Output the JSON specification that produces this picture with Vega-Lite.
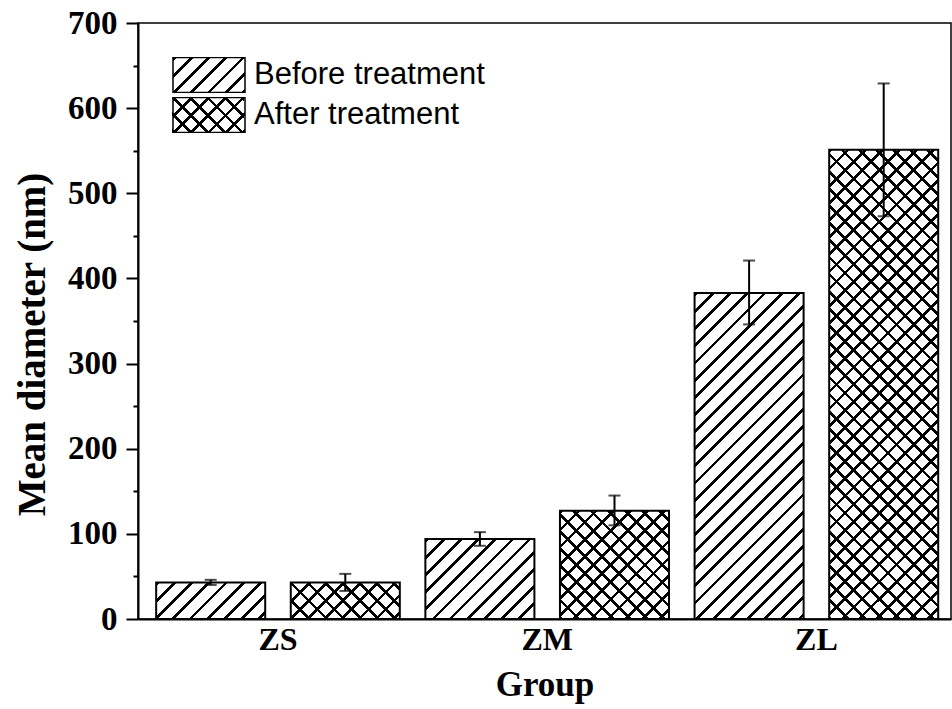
{
  "$schema": "https://vega.github.io/schema/vega-lite/v6.json",
  "width": 813,
  "height": 596,
  "autosize": "none",
  "padding": {"left": 138, "top": 23, "right": 1, "bottom": 90},
  "background": "white",
  "params": [
    {"name": "hs", "value": [
      {"offset":0,"color":"#000"},{"offset":0.0063,"color":"#000"},{"offset":0.0063,"color":"transparent"},{"offset":0.0286,"color":"transparent"},
      {"offset":0.0286,"color":"#000"},{"offset":0.0349,"color":"#000"},{"offset":0.0349,"color":"transparent"},{"offset":0.0571,"color":"transparent"},
      {"offset":0.0571,"color":"#000"},{"offset":0.0634,"color":"#000"},{"offset":0.0634,"color":"transparent"},{"offset":0.0857,"color":"transparent"},
      {"offset":0.0857,"color":"#000"},{"offset":0.092,"color":"#000"},{"offset":0.092,"color":"transparent"},{"offset":0.1143,"color":"transparent"},
      {"offset":0.1143,"color":"#000"},{"offset":0.1206,"color":"#000"},{"offset":0.1206,"color":"transparent"},{"offset":0.1429,"color":"transparent"},
      {"offset":0.1429,"color":"#000"},{"offset":0.1492,"color":"#000"},{"offset":0.1492,"color":"transparent"},{"offset":0.1714,"color":"transparent"},
      {"offset":0.1714,"color":"#000"},{"offset":0.1777,"color":"#000"},{"offset":0.1777,"color":"transparent"},{"offset":0.2,"color":"transparent"},
      {"offset":0.2,"color":"#000"},{"offset":0.2063,"color":"#000"},{"offset":0.2063,"color":"transparent"},{"offset":0.2286,"color":"transparent"},
      {"offset":0.2286,"color":"#000"},{"offset":0.2349,"color":"#000"},{"offset":0.2349,"color":"transparent"},{"offset":0.2571,"color":"transparent"},
      {"offset":0.2571,"color":"#000"},{"offset":0.2634,"color":"#000"},{"offset":0.2634,"color":"transparent"},{"offset":0.2857,"color":"transparent"},
      {"offset":0.2857,"color":"#000"},{"offset":0.292,"color":"#000"},{"offset":0.292,"color":"transparent"},{"offset":0.3143,"color":"transparent"},
      {"offset":0.3143,"color":"#000"},{"offset":0.3206,"color":"#000"},{"offset":0.3206,"color":"transparent"},{"offset":0.3429,"color":"transparent"},
      {"offset":0.3429,"color":"#000"},{"offset":0.3492,"color":"#000"},{"offset":0.3492,"color":"transparent"},{"offset":0.3714,"color":"transparent"},
      {"offset":0.3714,"color":"#000"},{"offset":0.3777,"color":"#000"},{"offset":0.3777,"color":"transparent"},{"offset":0.4,"color":"transparent"},
      {"offset":0.4,"color":"#000"},{"offset":0.4063,"color":"#000"},{"offset":0.4063,"color":"transparent"},{"offset":0.4286,"color":"transparent"},
      {"offset":0.4286,"color":"#000"},{"offset":0.4349,"color":"#000"},{"offset":0.4349,"color":"transparent"},{"offset":0.4571,"color":"transparent"},
      {"offset":0.4571,"color":"#000"},{"offset":0.4634,"color":"#000"},{"offset":0.4634,"color":"transparent"},{"offset":0.4857,"color":"transparent"},
      {"offset":0.4857,"color":"#000"},{"offset":0.492,"color":"#000"},{"offset":0.492,"color":"transparent"},{"offset":0.5143,"color":"transparent"},
      {"offset":0.5143,"color":"#000"},{"offset":0.5206,"color":"#000"},{"offset":0.5206,"color":"transparent"},{"offset":0.5429,"color":"transparent"},
      {"offset":0.5429,"color":"#000"},{"offset":0.5492,"color":"#000"},{"offset":0.5492,"color":"transparent"},{"offset":0.5714,"color":"transparent"},
      {"offset":0.5714,"color":"#000"},{"offset":0.5777,"color":"#000"},{"offset":0.5777,"color":"transparent"},{"offset":0.6,"color":"transparent"},
      {"offset":0.6,"color":"#000"},{"offset":0.6063,"color":"#000"},{"offset":0.6063,"color":"transparent"},{"offset":0.6286,"color":"transparent"},
      {"offset":0.6286,"color":"#000"},{"offset":0.6349,"color":"#000"},{"offset":0.6349,"color":"transparent"},{"offset":0.6571,"color":"transparent"},
      {"offset":0.6571,"color":"#000"},{"offset":0.6634,"color":"#000"},{"offset":0.6634,"color":"transparent"},{"offset":0.6857,"color":"transparent"},
      {"offset":0.6857,"color":"#000"},{"offset":0.692,"color":"#000"},{"offset":0.692,"color":"transparent"},{"offset":0.7143,"color":"transparent"},
      {"offset":0.7143,"color":"#000"},{"offset":0.7206,"color":"#000"},{"offset":0.7206,"color":"transparent"},{"offset":0.7429,"color":"transparent"},
      {"offset":0.7429,"color":"#000"},{"offset":0.7492,"color":"#000"},{"offset":0.7492,"color":"transparent"},{"offset":0.7714,"color":"transparent"},
      {"offset":0.7714,"color":"#000"},{"offset":0.7777,"color":"#000"},{"offset":0.7777,"color":"transparent"},{"offset":0.8,"color":"transparent"},
      {"offset":0.8,"color":"#000"},{"offset":0.8063,"color":"#000"},{"offset":0.8063,"color":"transparent"},{"offset":0.8286,"color":"transparent"},
      {"offset":0.8286,"color":"#000"},{"offset":0.8349,"color":"#000"},{"offset":0.8349,"color":"transparent"},{"offset":0.8571,"color":"transparent"},
      {"offset":0.8571,"color":"#000"},{"offset":0.8634,"color":"#000"},{"offset":0.8634,"color":"transparent"},{"offset":0.8857,"color":"transparent"},
      {"offset":0.8857,"color":"#000"},{"offset":0.892,"color":"#000"},{"offset":0.892,"color":"transparent"},{"offset":0.9143,"color":"transparent"},
      {"offset":0.9143,"color":"#000"},{"offset":0.9206,"color":"#000"},{"offset":0.9206,"color":"transparent"},{"offset":0.9429,"color":"transparent"},
      {"offset":0.9429,"color":"#000"},{"offset":0.9492,"color":"#000"},{"offset":0.9492,"color":"transparent"},{"offset":0.9714,"color":"transparent"},
      {"offset":0.9714,"color":"#000"},{"offset":0.9777,"color":"#000"},{"offset":0.9777,"color":"transparent"},{"offset":1,"color":"transparent"}
    ]}
  ],
  "data": {"values": [
    {"group": "ZS", "treatment": "Before treatment", "mean": 43, "lo": 40, "hi": 46},
    {"group": "ZS", "treatment": "After treatment", "mean": 43, "lo": 33, "hi": 53},
    {"group": "ZM", "treatment": "Before treatment", "mean": 94, "lo": 86, "hi": 102},
    {"group": "ZM", "treatment": "After treatment", "mean": 127, "lo": 110, "hi": 145},
    {"group": "ZL", "treatment": "Before treatment", "mean": 383, "lo": 346, "hi": 421},
    {"group": "ZL", "treatment": "After treatment", "mean": 551, "lo": 473, "hi": 629}
  ]},
  "encoding": {
    "x": {
      "field": "group", "type": "nominal", "sort": ["ZS", "ZM", "ZL"],
      "scale": {"paddingInner": 0, "paddingOuter": 0.01, "align": 1},
      "axis": {
        "title": "Group", "labelAngle": 0, "ticks": false, "tickSize": 0,
        "labelFont": "Liberation Serif", "labelFontWeight": "bold", "labelFontSize": 32, "labelColor": "black",
        "labelBaseline": "alphabetic", "labelPadding": 30,
        "domainColor": "black", "domainWidth": 2,
        "titleFont": "Liberation Serif", "titleFontWeight": "bold", "titleFontSize": 35, "titleColor": "black",
        "titleBaseline": "alphabetic", "titleY": 76
      }
    },
    "xOffset": {
      "field": "treatment", "type": "nominal",
      "scale": {"domain": ["Before treatment", "After treatment"], "paddingInner": 0.19, "paddingOuter": 0.095}
    }
  },
  "layer": [
    {
      "mark": {
        "type": "bar", "stroke": "black", "strokeWidth": 2,
        "fill": {"expr": "{gradient:'linear',x1:0,y1:0,x2:65400/(11881+pow(scale('y',0)-scale('y',datum.mean),2)),y2:600*(scale('y',0)-scale('y',datum.mean))/(11881+pow(scale('y',0)-scale('y',datum.mean),2)),stops:hs}"}
      },
      "encoding": {
        "y": {
          "field": "mean", "type": "quantitative", "title": "Mean diameter (nm)",
          "scale": {"domain": [0, 700], "nice": false},
          "axis": {
            "title": "Mean diameter (nm)", "grid": false,
            "values": [0, 50, 100, 150, 200, 250, 300, 350, 400, 450, 500, 550, 600, 650, 700],
            "labelExpr": "datum.value % 100 === 0 ? datum.label : ''",
            "tickSize": {"condition": {"test": "datum.value % 100 === 0", "value": 12}, "value": 5},
            "tickWidth": 2, "tickColor": "black",
            "domainColor": "black", "domainWidth": 2,
            "labelFont": "Liberation Serif", "labelFontWeight": "bold", "labelFontSize": 33, "labelColor": "black",
            "labelPadding": 9,
            "titleFont": "Liberation Serif", "titleFontWeight": "bold", "titleFontSize": 39, "titleColor": "black",
            "titleAngle": -90, "titleAlign": "center", "titleBaseline": "alphabetic", "titleX": -94, "titleY": 321
          }
        }
      }
    },
    {
      "transform": [{"filter": "datum.treatment === 'After treatment'"}],
      "mark": {
        "type": "bar",
        "fill": {"expr": "{gradient:'linear',x1:0,y1:1,x2:65400/(11881+pow(scale('y',0)-scale('y',datum.mean),2)),y2:1-600*(scale('y',0)-scale('y',datum.mean))/(11881+pow(scale('y',0)-scale('y',datum.mean),2)),stops:hs}"}
      },
      "encoding": {
        "y": {"field": "mean", "type": "quantitative", "title": "Mean diameter (nm)", "scale": {"domain": [0, 700], "nice": false}}
      }
    },
    {
      "mark": {"type": "rule", "color": "black", "strokeWidth": 2},
      "encoding": {
        "y": {"field": "lo", "type": "quantitative", "title": "Mean diameter (nm)", "scale": {"domain": [0, 700], "nice": false}},
        "y2": {"field": "hi"}
      }
    },
    {
      "mark": {"type": "tick", "color": "black", "thickness": 2, "size": 12},
      "encoding": {
        "y": {"field": "hi", "type": "quantitative", "title": "Mean diameter (nm)", "scale": {"domain": [0, 700], "nice": false}}
      }
    },
    {
      "mark": {"type": "tick", "color": "black", "thickness": 2, "size": 12},
      "encoding": {
        "y": {"field": "lo", "type": "quantitative", "title": "Mean diameter (nm)", "scale": {"domain": [0, 700], "nice": false}}
      }
    },
    {
      "transform": [{"filter": "false"}],
      "mark": {
        "type": "bar", "stroke": "black", "strokeWidth": 2,
        "fill": {"expr": "{gradient:'linear',x1:0,y1:0,x2:6.7405,y2:3.2767,stops:hs}"}
      },
      "encoding": {
        "y": {"field": "mean", "type": "quantitative", "title": "Mean diameter (nm)", "scale": {"domain": [0, 700], "nice": false}},
        "opacity": {
          "field": "treatment", "type": "ordinal", "sort": ["Before treatment", "After treatment"],
          "scale": {"domain": ["Before treatment", "After treatment"], "range": [1, 1]},
          "legend": {
            "title": null, "orient": "top-left", "offset": 34, "padding": 0,
            "symbolType": "M-1,-0.486H1V0.486H-1Z", "symbolSize": 5184,
            "labelFont": "Liberation Sans", "labelFontSize": 31, "labelColor": "black", "labelOffset": 8, "labelLimit": 400,
            "clipHeight": 36, "rowPadding": 4,
            "encode": {"symbols": {
              "fill": {"value": {"expr": "{gradient:'linear',x1:0,y1:0,x2:6.7405,y2:3.2767,stops:hs}"}},
              "stroke": {"value": "black"}, "strokeWidth": {"value": 2}
            }}
          }
        }
      }
    },
    {
      "transform": [{"filter": "false"}],
      "mark": {
        "type": "bar",
        "fill": {"expr": "datum.value === 'After treatment' ? {gradient:'linear',x1:0,y1:1,x2:6.7405,y2:-2.2767,stops:hs} : 'transparent'"}
      },
      "encoding": {
        "y": {"field": "mean", "type": "quantitative", "title": "Mean diameter (nm)", "scale": {"domain": [0, 700], "nice": false}},
        "strokeWidth": {
          "field": "treatment", "type": "ordinal", "sort": ["Before treatment", "After treatment"],
          "scale": {"domain": ["Before treatment", "After treatment"], "range": [0, 0]},
          "legend": {
            "title": null, "orient": "none", "legendX": 34, "legendY": 74, "padding": 0,
            "symbolType": "M-1,-0.486H1V0.486H-1Z", "symbolSize": 5184,
            "labelFont": "Liberation Sans", "labelFontSize": 31, "labelOpacity": 0, "labelExpr": "''", "labelOffset": 8, "labelLimit": 400,
            "clipHeight": 36, "rowPadding": 4,
            "encode": {"symbols": {
              "fill": {"value": {"expr": "datum.value === 'After treatment' ? {gradient:'linear',x1:0,y1:1,x2:6.7405,y2:-2.2767,stops:hs} : 'transparent'"}},
              "stroke": {"value": "transparent"}, "strokeWidth": {"value": 0}
            }}
          }
        }
      }
    }
  ],
  "config": {
    "view": {"stroke": "black", "strokeWidth": 1.5},
    "axis": {"grid": false}
  }
}
